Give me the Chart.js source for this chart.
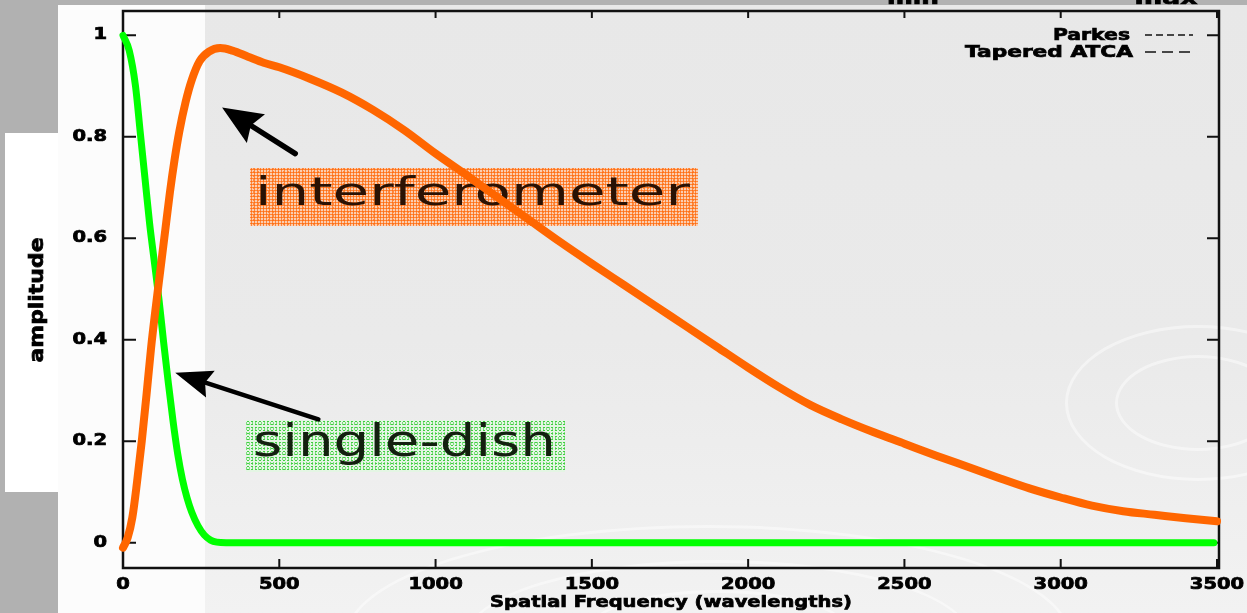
<!DOCTYPE html>
<html>
<head>
<meta charset="utf-8">
<script src="https://cdn.jsdelivr.net/npm/chart.js@4.4.1/dist/chart.umd.min.js"></script>
<style>
  html, body { margin: 0; padding: 0; }
  body { width: 1247px; height: 613px; overflow: hidden; position: relative; background: #b1b1b1; font-family: "DejaVu Sans", sans-serif; }
  .layer { position: absolute; }
  #paper { left: 58px; top: 5px; width: 1189px; height: 608px; background: #fcfcfc; }
  #sidebox { left: 5px; top: 133px; width: 53px; height: 359px; background: #ffffff; }
  #shade { left: 205px; top: 5px; width: 1042px; height: 608px; background: linear-gradient(#e8e8e8, #eaeaea 55%, #f2f2f2); overflow: hidden; }
  .ring { position: absolute; border: 3px solid rgba(255,255,255,0.45); border-radius: 50%; }
  .tag { position: absolute; overflow: hidden; }
  .tag span { position: absolute; white-space: nowrap; transform-origin: 0 0; }
  #tagInt { left: 250px; top: 168px; width: 448px; height: 58px; background-color: #fbcdb0;
    background-image: radial-gradient(#ff6d10 0.9px, transparent 1.3px), radial-gradient(#ff8a3d 0.7px, transparent 1.1px);
    background-size: 3px 3px, 5px 4px; background-position: 0 0, 1px 2px; }
  #tagInt span { left: 5px; top: 4px; font-size: 39px; line-height: 39px; color: #2a1204; }
  #tagDish { left: 246px; top: 420px; width: 319px; height: 52px; background-color: #e4f5e4;
    background-image: radial-gradient(#3fcf3f 0.7px, transparent 1.2px), radial-gradient(#7ede7e 0.6px, transparent 1px);
    background-size: 4px 3px, 3px 5px; background-position: 0 0, 2px 1px; }
  #tagDish span { left: 7px; top: -1px; font-size: 44px; line-height: 44px; color: #13200f; }
  canvas { position: absolute; left: 0; top: 0; }
</style>
</head>
<body>
<div class="layer" id="paper"></div>
<div class="layer" id="sidebox"></div>
<div class="layer" id="shade">
  <div class="ring" style="left:140px; top:520px; width:720px; height:220px;"></div>
  <div class="ring" style="left:260px; top:555px; width:500px; height:150px;"></div>
  <div class="ring" style="left:380px; top:585px; width:260px; height:80px;"></div>
  <div class="ring" style="left:860px; top:320px; width:260px; height:150px;"></div>
  <div class="ring" style="left:910px; top:350px; width:160px; height:90px;"></div>
</div>
<div class="tag" id="tagInt"><span data-w="435">interferometer</span></div>
<div class="tag" id="tagDish"><span data-w="303">single-dish</span></div>
<canvas id="chart" width="1247" height="613"></canvas>
<script>
// Spatial frequency (wavelengths) vs amplitude
const freqInterferometer = [0, 15, 30, 45, 60, 75, 90, 105, 120, 135, 150, 165, 180, 200, 220, 245, 275, 311, 350, 400,
    450, 500, 600, 700, 800, 900, 1000, 1100, 1200, 1300, 1400, 1500, 1600, 1700, 1800, 1900, 2000, 2100, 2200, 2300,
    2400, 2500, 2600, 2700, 2800, 2900, 3000, 3100, 3200, 3300, 3400, 3500];
const ampInterferometer = [-0.01, 0.01, 0.05, 0.12, 0.2, 0.29, 0.385, 0.465, 0.54, 0.615, 0.69, 0.755, 0.81, 0.868, 0.912, 0.949, 0.968, 0.975, 0.970, 0.958,
    0.946, 0.937, 0.914, 0.887, 0.853, 0.813, 0.767, 0.724, 0.680, 0.636, 0.592, 0.550, 0.509, 0.468, 0.427, 0.386, 0.345, 0.306, 0.271, 0.243,
    0.218, 0.195, 0.172, 0.150, 0.128, 0.107, 0.089, 0.073, 0.062, 0.055, 0.048, 0.042];

const freqSingleDish = [0, 20, 40, 55, 70, 85, 100, 115, 130, 145, 160, 175, 190, 205, 220, 240, 260, 280, 300, 330, 3490];
const ampSingleDish = [1.0, 0.97, 0.9, 0.81, 0.72, 0.63, 0.555, 0.48, 0.395, 0.315, 0.24, 0.175, 0.125, 0.088, 0.06, 0.033, 0.015, 0.005, 0.001, 0, 0];

const xTicks = [0, 500, 1000, 1500, 2000, 2500, 3000, 3500];
const xTickLabels = ['0', '500', '1000', '1500', '2000', '2500', '3000', '3500'];
const yTicks = [0, 0.2, 0.4, 0.6, 0.8, 1];
const yTickLabels = ['0', '0.2', '0.4', '0.6', '0.8', '1'];

const legendLabels = ['Parkes', 'Tapered ATCA'];

// annotation arrows, in data units: [tipX, tipY, tailX, tailY]
const arrows = [
    [317, 0.858, 551, 0.767],
    [167, 0.335, 625, 0.243]
];

const FONT = '"DejaVu Sans", sans-serif';

// draw text stretched horizontally (the original is a stretched scan), a bit heavier
function wideText(ctx, text, x, y, sx, align) {
    ctx.save();
    ctx.translate(x, y);
    ctx.scale(sx, 1);
    ctx.textAlign = align;
    ctx.fillText(text, 0, 0);
    ctx.lineWidth = 0.7;
    ctx.strokeStyle = ctx.fillStyle;
    ctx.strokeText(text, 0, 0);
    ctx.restore();
}

function fitText(ctx, text, x, y, width, align) {
    const w = ctx.measureText(text).width;
    wideText(ctx, text, x, y, width / w, align);
}

const frame = {
    id: 'frame',
    beforeDatasetsDraw(chart) {
        const ctx = chart.ctx;
        const a = chart.chartArea;
        const xs = chart.scales.x, ys = chart.scales.y;
        ctx.save();

        // arrows
        ctx.fillStyle = '#000';
        ctx.strokeStyle = '#000';
        arrows.forEach((ar, i) => {
            const tx = xs.getPixelForValue(ar[0]), ty = ys.getPixelForValue(ar[1]);
            const bx = xs.getPixelForValue(ar[2]), by = ys.getPixelForValue(ar[3]);
            const len = Math.hypot(bx - tx, by - ty);
            const ux = (bx - tx) / len, uy = (by - ty) / len;
            const hl = i === 0 ? 40 : 37, hw = i === 0 ? 17 : 14;
            ctx.lineWidth = i === 0 ? 5.5 : 4.5;
            ctx.lineCap = 'round';
            ctx.beginPath();
            ctx.moveTo(tx + ux * (hl - 6), ty + uy * (hl - 6));
            ctx.lineTo(bx, by);
            ctx.stroke();
            ctx.beginPath();
            ctx.moveTo(tx, ty);
            ctx.lineTo(tx + ux * hl - uy * hw, ty + uy * hl + ux * hw);
            ctx.lineTo(tx + ux * hl * 0.85, ty + uy * hl * 0.85);
            ctx.lineTo(tx + ux * hl + uy * hw, ty + uy * hl - ux * hw);
            ctx.closePath();
            ctx.fill();
        });

        // box and inward ticks
        ctx.strokeStyle = '#111';
        ctx.lineWidth = 2.5;
        ctx.lineCap = 'butt';
        ctx.strokeRect(a.left, a.top + 1, a.right - a.left + 2, a.bottom - a.top - 1);
        ctx.lineWidth = 2;
        ctx.beginPath();
        xTicks.forEach(v => {
            const px = xs.getPixelForValue(v);
            ctx.moveTo(px, a.bottom); ctx.lineTo(px, a.bottom - 9);
            ctx.moveTo(px, a.top + 1); ctx.lineTo(px, a.top + 8);
        });
        yTicks.forEach(v => {
            const py = ys.getPixelForValue(v);
            ctx.moveTo(a.left, py); ctx.lineTo(a.left + 13, py);
            ctx.moveTo(a.right + 2, py); ctx.lineTo(a.right - 10, py);
        });
        ctx.stroke();

        // tick labels
        ctx.fillStyle = '#000';
        ctx.font = 'bold 15px ' + FONT;
        ctx.textBaseline = 'middle';
        yTicks.forEach((v, i) => wideText(ctx, yTickLabels[i], 107, ys.getPixelForValue(v), 1.3, 'right'));
        xTicks.forEach((v, i) => wideText(ctx, xTickLabels[i], xs.getPixelForValue(v), 585, 1.3, 'center'));

        // axis titles
        ctx.textBaseline = 'alphabetic';
        ctx.font = 'bold 16px ' + FONT;
        fitText(ctx, 'Spatial Frequency (wavelengths)', 671, 607, 362, 'center');
        ctx.save();
        ctx.translate(43, 300);
        ctx.rotate(-Math.PI / 2);
        ctx.font = 'bold 19px ' + FONT;
        fitText(ctx, 'amplitude', 0, 0, 125, 'center');
        ctx.restore();

        // legend
        ctx.font = 'bold 16px ' + FONT;
        fitText(ctx, legendLabels[0], 1130, 40, 77, 'right');
        fitText(ctx, legendLabels[1], 1133, 57, 168, 'right');
        ctx.lineWidth = 1.5;
        ctx.setLineDash([7, 4]);
        ctx.beginPath(); ctx.moveTo(1145, 35); ctx.lineTo(1193, 35); ctx.stroke();
        ctx.setLineDash([11, 6]);
        ctx.beginPath(); ctx.moveTo(1145, 52); ctx.lineTo(1193, 52); ctx.stroke();
        ctx.setLineDash([]);

        // cut-off words on the top edge of the scan
        ctx.font = 'bold 18px ' + FONT;
        fitText(ctx, 'min', 913, 4, 52, 'center');
        fitText(ctx, 'max', 1166, 4, 63, 'center');
        ctx.restore();
    }
};

function initChart() {
    const ctx = document.getElementById('chart').getContext('2d');
    new Chart(ctx, {
        type: 'line',
        data: {
            datasets: [{
                label: 'interferometer',
                data: freqInterferometer.map((f, i) => ({ x: f, y: ampInterferometer[i] })),
                borderColor: '#ff6600',
                borderWidth: 8,
                cubicInterpolationMode: 'monotone',
                borderCapStyle: 'round',
                borderJoinStyle: 'round',
                pointRadius: 0,
                fill: false,
                clip: 6
            }, {
                label: 'single-dish',
                data: freqSingleDish.map((f, i) => ({ x: f, y: ampSingleDish[i] })),
                borderColor: '#00ff00',
                borderWidth: 7,
                cubicInterpolationMode: 'monotone',
                borderCapStyle: 'round',
                borderJoinStyle: 'round',
                pointRadius: 0,
                fill: false,
                clip: 6
            }]
        },
        options: {
            responsive: false,
            animation: false,
            devicePixelRatio: 1,
            layout: { padding: { left: 0, top: 10, right: 30, bottom: 0 } },
            plugins: { legend: { display: false }, tooltip: { enabled: false } },
            scales: {
                x: {
                    type: 'linear', min: 0, max: 3500,
                    grid: { display: false }, border: { display: false },
                    ticks: { display: false },
                    afterFit: s => { s.height = 45; }
                },
                y: {
                    min: -0.05, max: 1.05,
                    grid: { display: false }, border: { display: false },
                    ticks: { display: false },
                    afterFit: s => { s.width = 123; }
                }
            }
        },
        plugins: [frame]
    });
}

// stretch the handwritten labels to the width they have in the picture
function fitTags() {
    document.querySelectorAll('.tag span').forEach(el => {
        const w = el.getBoundingClientRect().width;
        el.style.transform = 'scaleX(' + (+el.dataset.w / w) + ')';
    });
}

fitTags();
initChart();
</script>
</body>
</html>
